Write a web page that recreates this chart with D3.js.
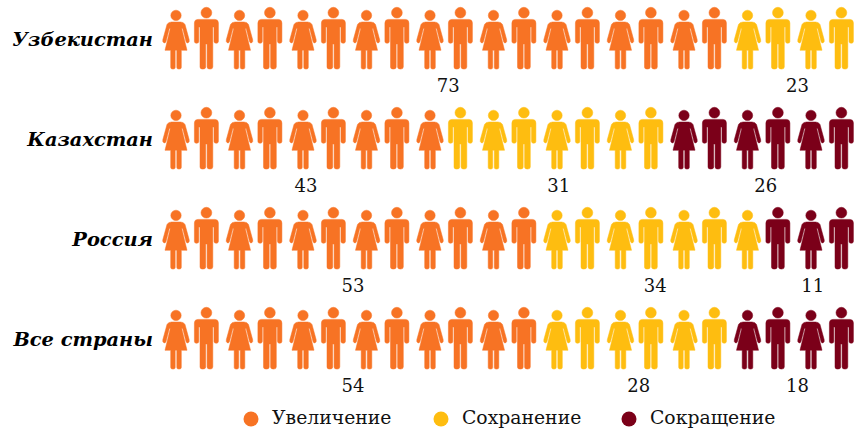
<!DOCTYPE html>
<head>
  <meta charset="utf-8">
  <script src="https://cdnjs.cloudflare.com/ajax/libs/d3/7.8.5/d3.min.js"></script>
  <style>
    body { margin: 0; background: #fff; }
    text { font-family: "DejaVu Serif", serif; fill: #111; }
    .country { font-size: 19.4px; font-weight: bold; font-style: italic; text-anchor: end; fill: #000; }
    .value { font-size: 18px; text-anchor: middle; }
    .legend-text { font-size: 18.8px; }
  </style>
</head>

<body>
  <svg id="chart"></svg>

  <script>
    var countries = ["Узбекистан", "Казахстан", "Россия", "Все страны"];
    var statuses = ["Увеличение", "Сохранение", "Сокращение"];
    var colors = ["#f77324", "#febd10", "#7b0019"];

    // how many of the 22 figures get each colour, per country
    var increaseIcons = [18, 9, 12, 12];
    var sameIcons = [4, 7, 7, 6];
    var decreaseIcons = [0, 6, 3, 4];

    // printed percentages
    var increaseValues = [73, 43, 53, 54];
    var sameValues = [23, 31, 34, 28];
    var decreaseValues = [null, 26, 11, 18];

    var width = 866, height = 431;
    var svg = d3.select("#chart").attr("width", width).attr("height", height);

    var color = d3.scaleOrdinal().domain(statuses).range(colors);
    var rowY = d3.scalePoint().domain(countries).range([0, 300]);
    // figures come in woman/man pairs
    var pairX = d3.scaleLinear().domain([0, 10]).range([176, 811]);
    function figureX(i) {
      return pairX(Math.floor(i / 2)) + (i % 2 ? 30.4 : 0);
    }

    // both drawn around x=0, feet at y=69
    function womanPath() {
      var p = d3.path();
      p.moveTo(-4.5, 22);
      p.lineTo(4.5, 22);
      p.quadraticCurveTo(7.8, 22, 9, 24.5);
      p.lineTo(13.2, 39.8);
      p.quadraticCurveTo(13.7, 42, 12, 42.9);
      p.quadraticCurveTo(10.6, 43.4, 10, 41.6);
      p.lineTo(6.7, 28.5);
      p.lineTo(5.7, 28.5);
      p.lineTo(11, 50.3);
      p.lineTo(5.3, 50.3);
      p.lineTo(5.3, 67.5);
      p.quadraticCurveTo(5.3, 69.1, 3, 69.1);
      p.quadraticCurveTo(0.8, 69.1, 0.8, 67.5);
      p.lineTo(0.8, 50.3);
      p.lineTo(-0.8, 50.3);
      p.lineTo(-0.8, 67.5);
      p.quadraticCurveTo(-0.8, 69.1, -3, 69.1);
      p.quadraticCurveTo(-5.3, 69.1, -5.3, 67.5);
      p.lineTo(-5.3, 50.3);
      p.lineTo(-11, 50.3);
      p.lineTo(-5.7, 28.5);
      p.lineTo(-6.7, 28.5);
      p.lineTo(-10, 41.6);
      p.quadraticCurveTo(-10.6, 43.4, -12, 42.9);
      p.quadraticCurveTo(-13.7, 42, -13.2, 39.8);
      p.lineTo(-9, 24.5);
      p.quadraticCurveTo(-7.8, 22, -4.5, 22);
      p.closePath();
      p.moveTo(5.2, 15.4);
      p.arc(0, 15.4, 5.2, 0, 2 * Math.PI);
      return p.toString();
    }

    function manPath() {
      var p = d3.path();
      p.moveTo(-8.5, 19.4);
      p.lineTo(8.5, 19.4);
      p.quadraticCurveTo(12, 19.4, 12, 23);
      p.lineTo(12, 41.5);
      p.quadraticCurveTo(12, 43.3, 9.8, 43.3);
      p.quadraticCurveTo(7.6, 43.3, 7.6, 41.5);
      p.lineTo(7.6, 27);
      p.lineTo(6.4, 27);
      p.lineTo(6.4, 67);
      p.quadraticCurveTo(6.4, 69.1, 3.7, 69.1);
      p.quadraticCurveTo(0.7, 69.1, 0.7, 67);
      p.lineTo(0.7, 44);
      p.lineTo(-0.7, 44);
      p.lineTo(-0.7, 67);
      p.quadraticCurveTo(-0.7, 69.1, -3.7, 69.1);
      p.quadraticCurveTo(-6.4, 69.1, -6.4, 67);
      p.lineTo(-6.4, 27);
      p.lineTo(-7.6, 27);
      p.lineTo(-7.6, 41.5);
      p.quadraticCurveTo(-7.6, 43.3, -9.8, 43.3);
      p.quadraticCurveTo(-12, 43.3, -12, 41.5);
      p.lineTo(-12, 23);
      p.quadraticCurveTo(-12, 19.4, -8.5, 19.4);
      p.closePath();
      p.moveTo(5.4, 12.7);
      p.arc(0, 12.7, 5.4, 0, 2 * Math.PI);
      return p.toString();
    }

    var woman = womanPath(), man = manPath();

    countries.forEach(function(country, r) {
      var g = svg.append("g").attr("transform", "translate(0," + rowY(country) + ")");
      var counts = [increaseIcons[r], sameIcons[r], decreaseIcons[r]];
      var values = [increaseValues[r], sameValues[r], decreaseValues[r]];

      var icons = [];
      statuses.forEach(function(s, k) {
        d3.range(counts[k]).forEach(function() { icons.push(s); });
      });

      g.selectAll("path")
        .data(icons).enter()
        .append("path")
        .attr("d", function(d, i) { return i % 2 ? man : woman; })
        .attr("transform", function(d, i) { return "translate(" + figureX(i) + ",0)"; })
        .attr("fill", function(d) { return color(d); })
        .attr("stroke", function(d) { return color(d); })
        .attr("stroke-width", 0.5);

      g.append("text")
        .attr("class", "country")
        .attr("x", 153)
        .attr("y", 45.5)
        .text(country);

      // value sits under the middle of its coloured run
      var start = 0;
      statuses.forEach(function(s, k) {
        var end = start + counts[k] - 1;
        if (values[k] != null) {
          g.append("text")
            .attr("class", "value")
            .attr("x", (figureX(start) + figureX(end)) / 2 + 3)
            .attr("y", 92)
            .text(values[k]);
        }
        start = end + 1;
      });
    });

    var legendX = d3.scaleOrdinal().domain(statuses).range([251, 441, 629]);
    var legend = svg.selectAll(".legend").data(statuses).enter()
      .append("g")
      .attr("class", "legend")
      .attr("transform", function(d) { return "translate(" + legendX(d) + ",419)"; });
    legend.append("circle")
      .attr("r", 7.5)
      .attr("fill", function(d) { return color(d); });
    legend.append("text")
      .attr("class", "legend-text")
      .attr("x", 21)
      .attr("y", 5)
      .text(function(d) { return d; });
  </script>
</body>
